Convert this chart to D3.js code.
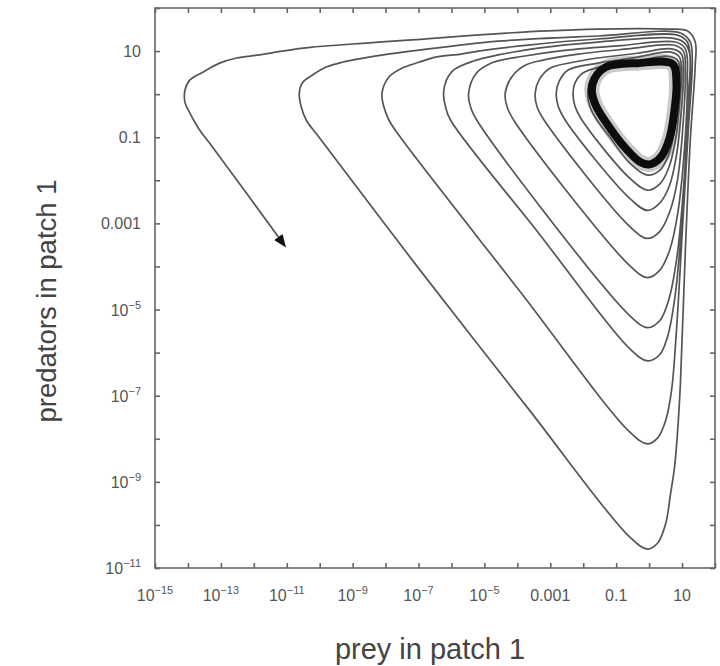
<!DOCTYPE html>
<html><head><meta charset="utf-8">
<script src="https://cdn.jsdelivr.net/npm/d3@7"></script>
<style>body{margin:0;background:#fff;} svg{display:block;}</style>
</head><body><svg id="c" width="720" height="666"></svg>
<script>
// ---- data: [log10(prey), log10(predators)] ----
const limitCycle = [[0.71,0.70],[-0.35,0.72],[-1.31,0.63],[-1.65,0.37],[-1.74,0.09],[-1.62,-0.26],[-1.25,-0.72],[-0.71,-1.26],[-0.26,-1.58],[0.02,-1.63],[0.35,-1.47],[0.62,-1.02],[0.77,-0.37],[0.83,0.28]];
const cycleA = [[0.26,0.72],[-0.65,0.67],[-1.41,0.58],[-1.74,0.37],[-1.86,0.02],[-1.80,-0.28],[-1.62,-0.56],[-1.19,-1.00],[-0.59,-1.60],[-0.05,-1.88],[0.32,-1.77],[0.59,-1.42],[0.77,-0.84],[0.89,-0.14],[0.95,0.44],[0.86,0.79],[0.56,0.88],[-0.35,0.77],[-1.41,0.65]];
const cycleB = [[-2.01,0.49],[-2.25,0.26],[-2.31,0.02],[-2.25,-0.28],[-2.04,-0.60],[-0.59,-1.95],[-0.05,-2.23],[0.32,-2.09],[0.59,-1.72],[0.80,-1.07],[0.92,-0.26],[0.98,0.44],[0.92,0.86],[0.62,0.98],[-0.35,0.86],[-1.56,0.72]];
const cycleC = [[-2.46,0.56],[-2.73,0.30],[-2.82,0.02],[-2.76,-0.28],[-2.55,-0.60],[-0.59,-2.42],[-0.05,-2.70],[0.32,-2.53],[0.62,-2.12],[0.83,-1.42],[0.98,-0.37],[1.04,0.51],[0.98,0.93],[0.68,1.05],[-0.35,0.95],[-1.56,0.84],[-2.31,0.74]];
const cycleD = [[-3.01,0.60],[-3.34,0.33],[-3.46,0.02],[-3.40,-0.30],[-3.19,-0.60],[-0.59,-3.07],[-0.05,-3.35],[0.32,-3.19],[0.62,-2.74],[0.86,-2.00],[1.04,-0.60],[1.10,0.51],[1.04,1.00],[0.74,1.14],[-0.65,1.05],[-2.16,0.93],[-3.22,0.79]];
const cycleE = [[-3.76,0.67],[-4.15,0.42],[-4.37,0.02],[-4.31,-0.30],[-4.09,-0.63],[-0.59,-3.98],[-0.05,-4.26],[0.32,-4.09],[0.62,-3.63],[0.86,-2.81],[1.07,-1.30],[1.16,0.33],[1.10,1.05],[0.80,1.21],[-0.95,1.12],[-2.76,1.00],[-3.82,0.88]];
const cycleF = [[-4.73,0.74],[-5.24,0.49],[-5.48,0.02],[-5.42,-0.30],[-5.21,-0.63],[-0.59,-5.14],[-0.05,-5.42],[0.32,-5.26],[0.59,-4.79],[0.83,-3.86],[1.04,-2.23],[1.19,-0.14],[1.22,0.98],[1.04,1.21],[0.71,1.30],[-1.56,1.21],[-3.37,1.07],[-4.58,0.91]];
const cycleG = [[-5.33,0.77],[-5.94,0.56],[-6.15,0.33],[-6.24,0.02],[-6.18,-0.30],[-6.03,-0.60],[-3.37,-3.21],[-0.59,-5.91],[-0.05,-6.19],[0.32,-6.05],[0.56,-5.63],[0.77,-4.79],[0.98,-3.16],[1.16,-0.84],[1.25,0.79],[1.16,1.21],[0.86,1.37],[-1.56,1.28],[-3.67,1.14],[-5.18,1.00]];
const cycleH = [[-5.70,0.93],[-6.48,0.86],[-6.99,0.74],[-7.51,0.60],[-7.90,0.40],[-8.11,0.02],[-8.05,-0.30],[-7.90,-0.60],[-7.60,-0.95],[-3.97,-4.53],[-0.59,-7.84],[-0.05,-8.12],[0.26,-7.98],[0.50,-7.58],[0.68,-6.88],[0.83,-5.49],[1.01,-3.16],[1.19,-0.84],[1.31,0.79],[1.25,1.21],[0.95,1.42],[-1.56,1.35],[-4.58,1.23],[-6.99,1.02]];
const cycleI = [[-8.50,0.86],[-9.32,0.74],[-9.80,0.63],[-10.23,0.44],[-10.53,0.26],[-10.62,0.02],[-10.56,-0.30],[-10.41,-0.60],[-10.02,-1.00],[-6.99,-4.05],[-3.67,-7.30],[-0.59,-10.28],[-0.05,-10.56],[0.26,-10.42],[0.50,-9.98],[0.65,-9.28],[0.77,-8.67],[0.86,-7.88],[0.95,-6.72],[1.10,-3.63],[1.25,-1.07],[1.40,0.67],[1.40,1.21],[1.16,1.47],[0.56,1.51],[-3.07,1.47],[-7.21,1.26],[-8.50,1.19]];
const cycleJ = [[-10.23,1.09],[-11.13,1.00],[-11.83,0.91],[-12.52,0.84],[-13.04,0.72],[-13.55,0.51],[-13.94,0.33],[-14.09,0.09],[-14.09,-0.19],[-13.94,-0.44],[-13.64,-0.84],[-13.25,-1.23],[-11.07,-3.51]];

const xDecades = [-15,-14,-13,-12,-11,-10,-9,-8,-7,-6,-5,-4,-3,-2,-1,0,1,2];
const yDecades = [-11,-10,-9,-8,-7,-6,-5,-4,-3,-2,-1,0,1,2];
const xTickExps = [-15,-13,-11,-9,-7,-5,-3,-1,1];
const xTickLabels = [["10","−15"],["10","−13"],["10","−11"],["10","−9"],["10","−7"],["10","−5"],["0.001",""],["0.1",""],["10",""]];
const yTickExps = [1,-1,-3,-5,-7,-9,-11];
const yTickLabels = [["10",""],["0.1",""],["0.001",""],["10","−5"],["10","−7"],["10","−9"],["10","−11"]];
const xTitle = "prey in patch 1";
const yTitle = "predators in patch 1";

// ---- drawing ----
const FONT = "'Liberation Sans', Arial, Helvetica, sans-serif";
const M = {left:155, right:715, top:8, bottom:568};
const x = d3.scaleLog().domain([1e-15, 1e2]).range([M.left, M.right]);
const y = d3.scaleLog().domain([1e-11, 1e2]).range([M.bottom, M.top]);
const svg = d3.select("#c");

const defs = svg.append("defs");
defs.append("clipPath").attr("id","clip").append("rect")
  .attr("x",M.left).attr("y",M.top).attr("width",M.right-M.left).attr("height",M.bottom-M.top);
defs.append("marker").attr("id","arr").attr("viewBox","0 -5 10 10")
  .attr("refX",8).attr("refY",0).attr("markerWidth",13).attr("markerHeight",13)
  .attr("markerUnits","userSpaceOnUse").attr("orient","auto")
  .append("path").attr("d","M0,-4L10,0L0,4Z").attr("fill","#111");

const line = d3.line().x(d=>x(Math.pow(10,d[0]))).y(d=>y(Math.pow(10,d[1])))
  .curve(d3.curveCatmullRom.alpha(0.5));
const lineClosed = d3.line().x(d=>x(Math.pow(10,d[0]))).y(d=>y(Math.pow(10,d[1])))
  .curve(d3.curveCatmullRomClosed.alpha(0.5));

const trajectory = [].concat(cycleA,cycleB,cycleC,cycleD,cycleE,cycleF,cycleG,cycleH,cycleI,cycleJ);

const plot = svg.append("g").attr("clip-path","url(#clip)");
plot.append("path").datum(limitCycle).attr("d",lineClosed)
  .attr("fill","none").attr("stroke","#888").attr("stroke-width",15).attr("stroke-opacity",0.45);
plot.append("path").datum(trajectory).attr("d",line)
  .attr("fill","none").attr("stroke","#555").attr("stroke-width",1.7)
  .attr("stroke-linejoin","round").attr("marker-end","url(#arr)");
plot.append("path").datum(limitCycle).attr("d",lineClosed)
  .attr("fill","none").attr("stroke","#0d0d0d").attr("stroke-width",8).attr("stroke-linejoin","round");

// frame
svg.append("rect").attr("x",M.left).attr("y",M.top).attr("width",M.right-M.left).attr("height",M.bottom-M.top)
  .attr("fill","none").attr("stroke","#666").attr("stroke-width",1.6);

// tick marks (inward) on all sides
const xv = xDecades.map(e=>Math.pow(10,e)), yv = yDecades.map(e=>Math.pow(10,e));
function styleAxis(g){ g.select(".domain").remove(); g.selectAll("line").attr("stroke","#666").attr("stroke-width",1.6); }
svg.append("g").attr("transform",`translate(0,${M.bottom})`).call(d3.axisBottom(x).tickValues(xv).tickSize(-5).tickFormat("")).call(styleAxis);
svg.append("g").attr("transform",`translate(0,${M.top})`).call(d3.axisTop(x).tickValues(xv).tickSize(-5).tickFormat("")).call(styleAxis);
svg.append("g").attr("transform",`translate(${M.left},0)`).call(d3.axisLeft(y).tickValues(yv).tickSize(-5).tickFormat("")).call(styleAxis);
svg.append("g").attr("transform",`translate(${M.right},0)`).call(d3.axisRight(y).tickValues(yv).tickSize(-5).tickFormat("")).call(styleAxis);

// tick labels
function label(t, parts){
  t.append("tspan").text(parts[0]);
  if(parts[1]) t.append("tspan").attr("font-size",11).attr("dy",-7).text(parts[1]);
}
xTickExps.forEach((e,i)=>{
  const t = svg.append("text").attr("x",x(Math.pow(10,e))).attr("y",601)
    .attr("text-anchor","middle").attr("font-family",FONT).attr("font-size",16).attr("fill","#555");
  label(t, xTickLabels[i]);
});
yTickExps.forEach((e,i)=>{
  const t = svg.append("text").attr("x",141).attr("y",y(Math.pow(10,e))+6)
    .attr("text-anchor","end").attr("font-family",FONT).attr("font-size",16).attr("fill","#555");
  label(t, yTickLabels[i]);
});

// titles
svg.append("text").attr("x",430).attr("y",659).attr("text-anchor","middle")
  .attr("font-family",FONT).attr("font-size",29).attr("fill","#444").text(xTitle);
svg.append("text").attr("transform","translate(56,301) rotate(-90)").attr("text-anchor","middle")
  .attr("font-family",FONT).attr("font-size",27.5).attr("fill","#444").text(yTitle);
</script>
</body></html>
